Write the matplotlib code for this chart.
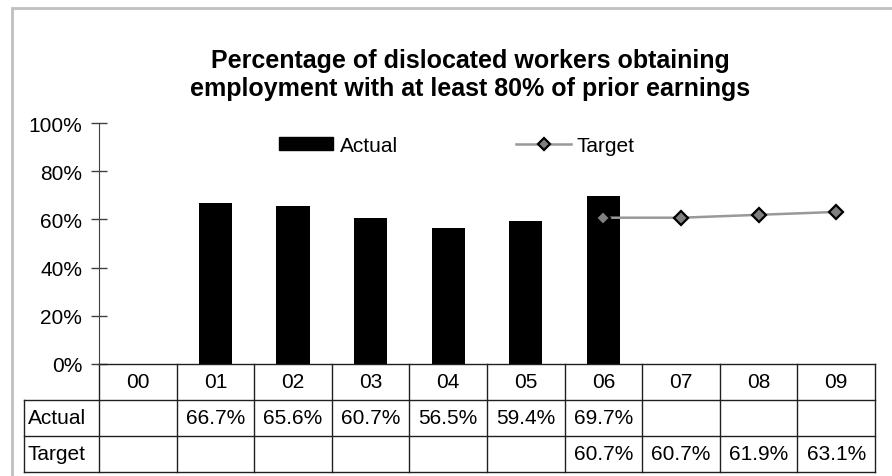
import numpy as np
import matplotlib.pyplot as plt
from matplotlib.lines import Line2D
from matplotlib.patches import Patch, Rectangle
from matplotlib.transforms import blended_transform_factory

plt.rcParams['font.family'] = ['Liberation Sans', 'DejaVu Sans']

years = ['00', '01', '02', '03', '04', '05', '06', '07', '08', '09']
actual = [None, 66.7, 65.6, 60.7, 56.5, 59.4, 69.7, None, None, None]
target = [None, None, None, None, None, None, 60.7, 60.7, 61.9, 63.1]
title = 'Percentage of dislocated workers obtaining\nemployment with at least 80% of prior earnings'

W, H = 892, 477
fs = 15
fig = plt.figure(figsize=(W / 100, H / 100), dpi=100)

# grey chart-area frame (runs off the right and bottom edges)
fig.patches.append(Rectangle((12 / W, -0.05), 1.0, 1 - 9 / H + 0.05,
                             transform=fig.transFigure, fill=False,
                             edgecolor='#bfbfbf', lw=2))

ax = fig.add_axes([99 / W, (H - 365) / H, 776 / W, 241 / H])

# bars
bx = [i for i, v in enumerate(actual) if v is not None]
bv = [actual[i] / 100 for i in bx]
ax.bar(bx, bv, width=0.43, color='black', zorder=2)

# target line
tx = [i for i, v in enumerate(target) if v is not None]
tv = [target[i] / 100 for i in tx]
ax.plot(tx, tv, color='#999999', lw=1.8, marker='D', ms=7,
        mfc='#808080', mec='black', mew=1.6, zorder=3)

ax.set_xlim(-0.5, len(years) - 0.5)
ax.set_ylim(0, 1)
yt = np.arange(0, 1.01, 0.2)
ax.set_yticks(yt)
ax.set_yticklabels([f'{int(round(t * 100))}%' for t in yt], fontsize=fs)
ax.tick_params(axis='y', direction='inout', length=12, width=1, color='#404040', pad=6)
ax.set_xticks([])
for s in ['top', 'right', 'bottom']:
    ax.spines[s].set_visible(False)
ax.spines['left'].set_color('#404040')

# data table below the plot
tr = blended_transform_factory(ax.transData, ax.transAxes)
rh = 36 / 241
lab_left = -0.5 - 75 / 77.6
right = len(years) - 0.5
kw = dict(transform=tr, clip_on=False, color='#202020', lw=1)
ax.plot([-0.5, right], [0, 0], **kw)
for r in (1, 2, 3):
    ax.plot([lab_left, right], [-r * rh, -r * rh], **kw)
for b in np.arange(-0.5, right + 0.01, 1.0):
    ax.plot([b, b], [0, -3 * rh], **kw)
ax.plot([lab_left, lab_left], [-rh, -3 * rh], **kw)

for i, yr in enumerate(years):
    ax.text(i, -0.5 * rh, yr, transform=tr, ha='center', va='center', fontsize=fs)
    if actual[i] is not None:
        ax.text(i, -1.5 * rh, f'{actual[i]:.1f}%', transform=tr,
                ha='center', va='center', fontsize=fs)
    if target[i] is not None:
        ax.text(i, -2.5 * rh, f'{target[i]:.1f}%', transform=tr,
                ha='center', va='center', fontsize=fs)
ax.text(lab_left + 0.05, -1.5 * rh, 'Actual', transform=tr, ha='left', va='center', fontsize=fs)
ax.text(lab_left + 0.05, -2.5 * rh, 'Target', transform=tr, ha='left', va='center', fontsize=fs)

fig.text(470 / W, 1 - 75 / H, title, ha='center', va='center',
         fontsize=18, fontweight='bold', linespacing=1.22)

handles = [Patch(facecolor='black', edgecolor='black'),
           Line2D([], [], color='#999999', lw=1.8, marker='D', ms=6.5,
                  mfc='#808080', mec='black', mew=1.6)]
ax.legend(handles, ['Actual', 'Target'], ncol=2, frameon=False,
          loc='center', bbox_to_anchor=((457 - 99) / 776, (365 - 146) / 241),
          fontsize=fs, handlelength=2.6, handletextpad=0.3,
          columnspacing=5.7, handleheight=0.6)

fig.savefig('out.png', dpi=100)
